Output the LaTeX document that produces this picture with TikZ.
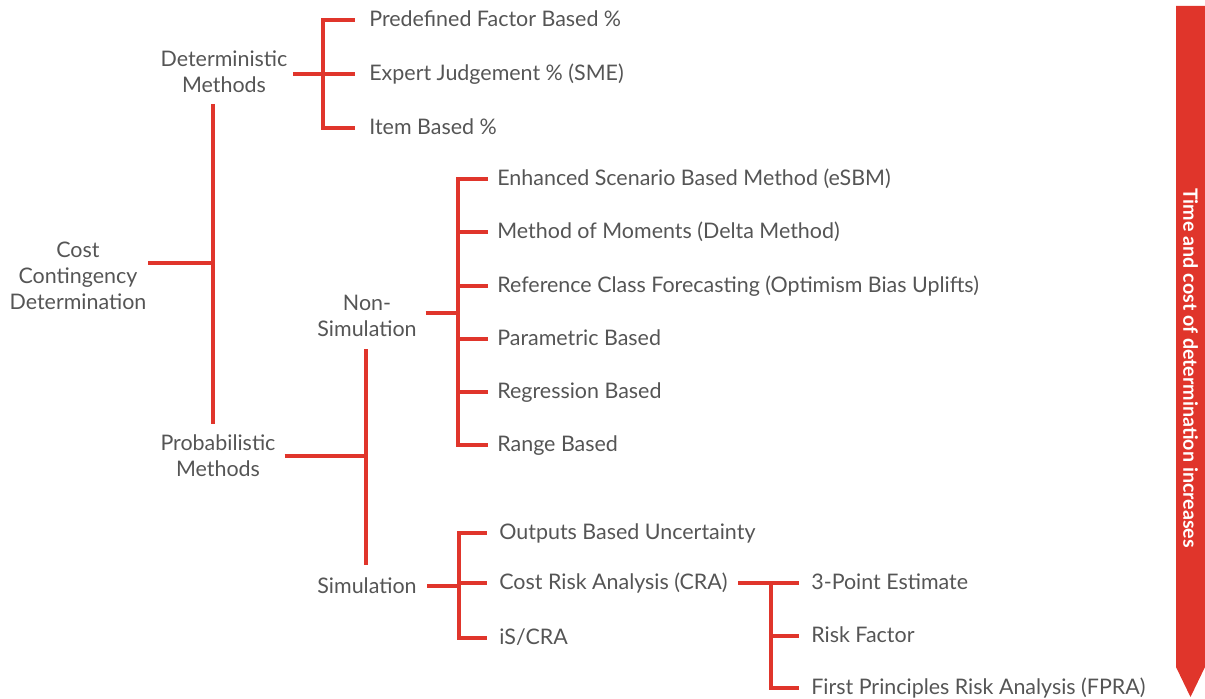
\documentclass[tikz,border=0pt]{standalone}
\usepackage{fontspec}
\setmainfont{Lato}
\usetikzlibrary{positioning,calc}
\definecolor{branchred}{HTML}{E0352B}
\definecolor{textgrey}{HTML}{555555}
\tikzset{
  branch/.style={draw=branchred, line width=2.3pt},
  hub/.style={align=center, inner sep=0pt, text=textgrey,
    font=\fontsize{12.2}{14.8}\selectfont},
  leaf/.style={anchor=west, inner sep=0pt, text=textgrey,
    text height=0.72em, text depth=0pt,
    font=\fontsize{12.2}{14.8}\selectfont},
}

\begin{document}
\begin{tikzpicture}[x=0.02cm, y=-0.02cm]
    \useasboundingbox (0,0) rectangle (1205,699);
    % main groups
    \node[hub] (ccd) at (78,276) {Cost\\Contingency\\Determination};
    \node[hub] (det) at (224,72) {Deterministic\\Methods};
    \node[hub] (prob) at (218,456) {Probabilistic\\Methods};
    \node[hub] (nonsim) at (367,316) {Non-\\Simulation};
    \node[hub] (sim) at (367,586) {Simulation};
    % junctions
    \coordinate (jc) at (213,263);
    \coordinate (jd) at (323,74);
    \coordinate (jp) at (366,456);
    \coordinate (jn) at (458,313);
    \coordinate (js) at (459,586);
    \coordinate (jr) at (771,583);
    % leaves
    \foreach \n/\y/\t in {pf/20/Predefined Factor Based \%, ej/74/Expert Judgement \% (SME), ib/128/Item Based \%}{
      \node[leaf] (\n) at (369,\y) {\t};
    }
    \foreach \n/\y/\t in {esbm/179/Enhanced Scenario Based Method (eSBM), mom/232/Method of Moments (Delta Method),
        rcf/286/Reference Class Forecasting (Optimism Bias Uplifts), para/339/Parametric Based,
        regr/392/Regression Based, rng/445/Range Based}{
      \node[leaf] (\n) at (497,\y) {\t};
    }
    \foreach \n/\y/\t in {obu/533/Outputs Based Uncertainty, cra/583/Cost Risk Analysis (CRA), iscra/638/{iS/CRA}}{
      \node[leaf] (\n) at (499,\y) {\t};
    }
    \foreach \n/\y/\t in {tpe/583/3-Point Estimate, rf/636/Risk Factor, fpra/688/First Principles Risk Analysis (FPRA)}{
      \node[leaf] (\n) at (811,\y) {\t};
    }
    % connectors
    \draw[branch, shorten <=1pt] (ccd.east |- jc) -- (jc);
    \draw[branch, shorten <=6pt, shorten >=6pt] (jc |- det.south) -- (jc |- prob.north);
    \draw[branch, shorten <=3pt] (det.east |- jd) -- (jd);
    \foreach \n in {pf,ej,ib}
      \draw[branch, shorten >=8pt] (jd) |- (\n.west);
    \draw[branch, shorten <=5pt] (prob.east |- jp) -- (jp);
    \draw[branch, shorten <=7pt, shorten >=7pt] (jp |- nonsim.south) -- (jp |- sim.north);
    \draw[branch, shorten <=5pt] (nonsim.east |- jn) -- (jn);
    \foreach \n in {esbm,mom,rcf,para,regr,rng}
      \draw[branch, shorten >=5pt] (jn) |- (\n.west);
    \draw[branch, shorten <=6pt] (sim.east |- js) -- (js);
    \foreach \n in {obu,cra,iscra}
      \draw[branch, shorten >=7pt] (js) |- (\n.west);
    \draw[branch, shorten <=6pt] (cra.east) -- (jr);
    \foreach \n in {tpe,rf,fpra}
      \draw[branch, shorten >=7pt] (jr) |- (\n.west);
    % side arrow
    \fill[branchred] (1176,6) -- (1205,6) -- (1205,667) -- (1190.5,697) -- (1176,667) -- cycle;
    \node[rotate=-90, text=white, font=\bfseries\fontsize{11.2}{13}\selectfont] (tag) at (1190.5,368)
      {Time and cost of determination increases};
  \end{tikzpicture}
\end{document}
